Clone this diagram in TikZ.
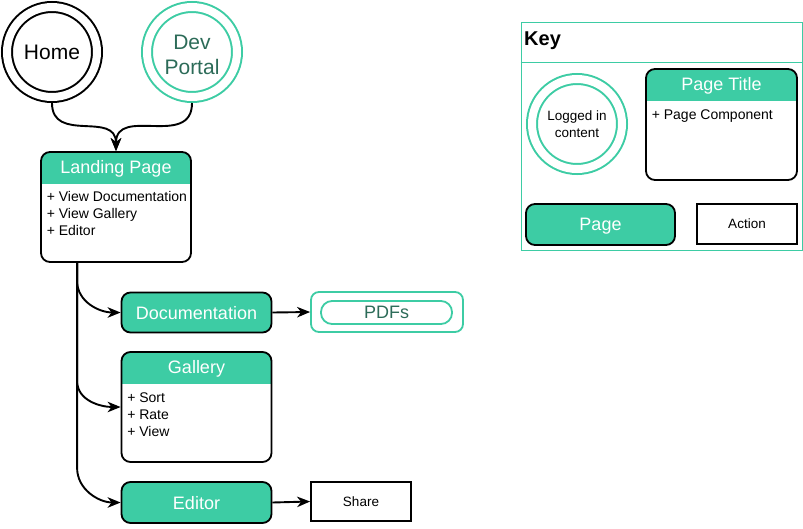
\documentclass[tikz,border=0pt]{standalone}
\usepackage{fontspec}
\setmainfont{Liberation Sans}
\usetikzlibrary{arrows.meta,positioning}
\definecolor{pagegreen}{HTML}{3DCCA4}
\definecolor{darkgreen}{HTML}{2C6B58}
\tikzset{
  bigfont/.style={font=\fontsize{18}{20}\selectfont},
  smallfont/.style={font=\fontsize{14}{17}\selectfont},
  pagecircle/.style={circle, draw, line width=2pt, double=white, double distance=8pt,
    minimum size=90pt, inner sep=0pt, outer sep=6pt, align=center},
  page/.style={draw, line width=1.8pt, rounded corners=9pt, fill=pagegreen, text=white,
    minimum width=150pt, minimum height=40pt, inner sep=0pt, text depth=0pt, bigfont},
  card/.style={draw, line width=1.8pt, rounded corners=9pt, minimum width=150pt,
    minimum height=110pt, inner sep=0pt,
    path picture={\fill[pagegreen, sharp corners] (path picture bounding box.north west)
      rectangle ([yshift=-32pt]path picture bounding box.north east);}},
  cardtitle/.style={text=white, inner sep=0pt, text depth=0pt, bigfont},
  cardlist/.style={anchor=north west, align=left, inner sep=0pt, smallfont},
  action/.style={draw, line width=1.8pt, minimum width=100pt, minimum height=40pt,
    inner sep=0pt, font=\fontsize{13.5}{16}\selectfont},
  link/.style={line width=1.9pt, -{Stealth[length=13pt,width=10.5pt,inset=4pt]}}
}
\begin{document}
\begin{tikzpicture}[x=1pt, y=-1pt]
  \useasboundingbox (0,0) rectangle (803,528);

  % entry points
  \node[pagecircle, font=\fontsize{21}{25}\selectfont] (home) at (52,52) {Home};
  \node[pagecircle, draw=pagegreen] (devportal) at (192,52) {};
  \node[align=center, inner sep=0pt, text=darkgreen, font=\fontsize{21}{25}\selectfont]
    (devlabel) at ([yshift=-3pt]devportal.center) {Dev\\Portal};

  % landing page
  \node[card] (landing) at (116,207) {};
  \node[cardtitle] (landingtitle) at ([yshift=-16pt]landing.north) {Landing Page};
  \node[cardlist] (landingitems) at ([shift={(6.5pt,-40pt)}]landing.north west)
    {+ View Documentation\\+ View Gallery\\+ Editor};
  \draw[link] (home.south) to[out=-90, in=90, looseness=1.3] (landing.north);
  \draw[link] (devportal.south) to[out=-90, in=90, looseness=1.3] (landing.north);

  % sub pages
  \node[page] (docs) at (196.5,312.5) {Documentation};
  \node[draw=pagegreen, line width=1.8pt, rounded corners=8pt, minimum width=152pt,
    minimum height=40pt] (pdfbox) at (387,312) {};
  \node[draw=pagegreen, line width=1.8pt, rounded corners=11pt, minimum width=131pt,
    minimum height=23pt, text=darkgreen, inner sep=0pt, text depth=0pt, bigfont] (pdfs) at (386.5,312.5) {PDFs};

  \node[card] (gallery) at (196.5,407) {};
  \node[cardtitle] (gallerytitle) at ([yshift=-16pt]gallery.north) {Gallery};
  \node[cardlist] (galleryitems) at ([shift={(6.5pt,-41pt)}]gallery.north west)
    {+ Sort\\+ Rate\\+ View};

  \node[page, minimum height=41pt] (editor) at (196.5,502.5) {Editor};
  \node[action, minimum height=39pt] (share) at (361,501.5) {Share};

  \coordinate (trunk) at ([xshift=37pt]landing.south west);
  \draw[link] (trunk) -- ++(0,18) to[out=-90, in=180] (docs.west);
  \draw[link] (trunk) -- ++(0,118) to[out=-90, in=180] (gallery.west);
  \draw[link] (trunk) -- ++(0,205) to[out=-90, in=180] (editor.west);
  \draw[link] (docs.east) -- (pdfbox.west);
  \draw[link] (editor.east) -- (share.west);

  % key
  \node[draw=pagegreen, line width=0.8pt, minimum width=281pt, minimum height=228pt] (keybox) at (661.5,136) {};
  \node[anchor=west, inner sep=0pt, font=\fontsize{20}{24}\selectfont\bfseries] (keytitle) at (524,41) {Key};
  \draw[pagegreen, line width=0.8pt] (keybox.west |- 0,62) -- (keybox.east |- 0,62);
  \node[pagecircle, draw=pagegreen, font=\fontsize{13.5}{17}\selectfont] (keycircle) at (577,124) {Logged in\\content};
  \node[card, minimum width=151pt, minimum height=111pt] (keycard) at (721.5,124.5) {};
  \node[cardtitle] (keycardtitle) at ([yshift=-16pt]keycard.north) {Page Title};
  \node[cardlist] (keycarditems) at ([shift={(6.5pt,-41pt)}]keycard.north west) {+ Page Component};
  \node[page, minimum width=149pt, minimum height=41pt] (keypage) at (600.5,224.5) {Page};
  \node[action] (keyaction) at (747,224) {Action};
\end{tikzpicture}
\end{document}
